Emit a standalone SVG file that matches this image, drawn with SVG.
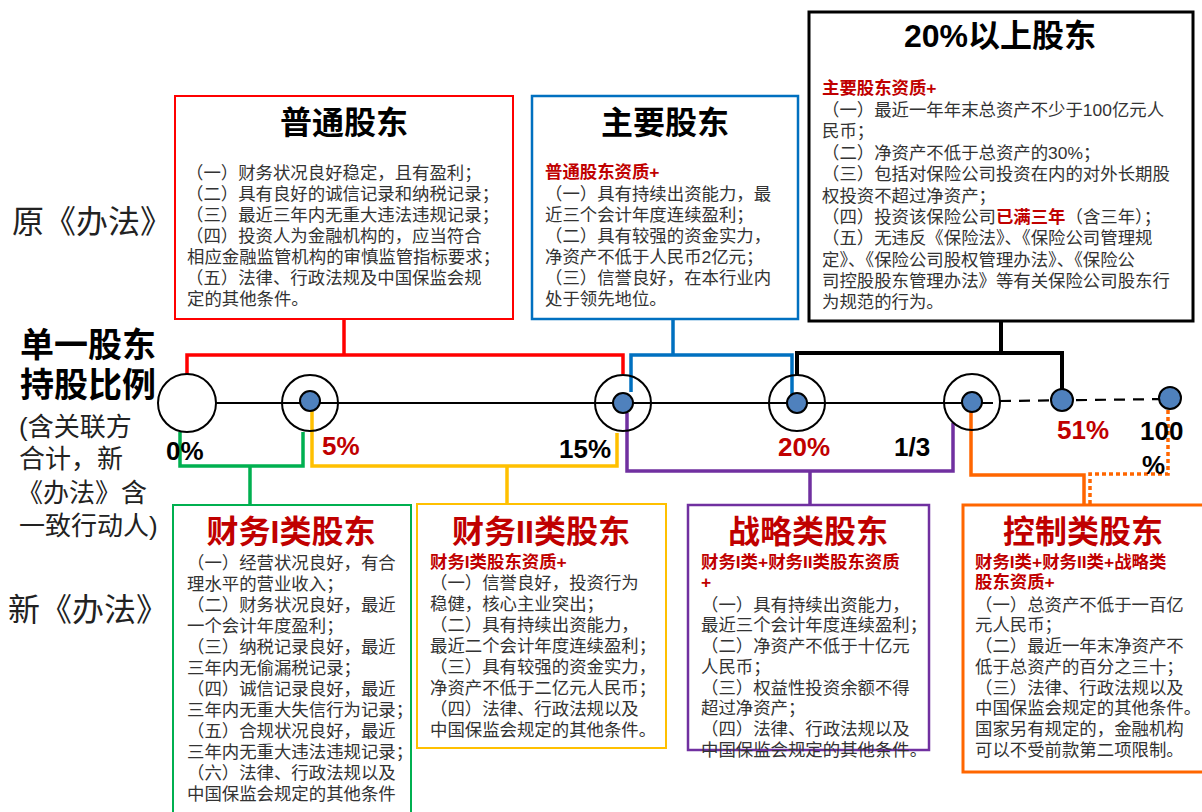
<svg xmlns="http://www.w3.org/2000/svg" width="1202" height="812" viewBox="0 0 1202 812">
<style>
text{font-family:"Liberation Sans","Noto Sans CJK SC",sans-serif}
.t{font-size:32px;font-weight:bold;text-anchor:middle}
.b{font-size:17.4px;fill:#333}
.r{font-size:17.4px;fill:#C00000;font-weight:bold}
.lbl{font-size:26px;font-weight:bold}
.side{font-size:32px;fill:#222}
.conn{fill:none;stroke-width:3.5}
.ring{fill:none;stroke:#000;stroke-width:2}
.dot{fill:#4F81BD;stroke:#000;stroke-width:2}
</style>
<rect width="1202" height="812" fill="#fff"/>

<!-- left labels -->
<g id="side-labels">
<text class="side" x="12" y="233">原《办法》</text>
<text x="20" y="357" style="font-size:34px;font-weight:bold">单一股东</text>
<text x="20" y="397" style="font-size:34px;font-weight:bold">持股比例</text>
<text x="19" y="436" style="font-size:26px;fill:#222">(含关联方</text>
<text x="19" y="468" style="font-size:26px;fill:#222">合计，新</text>
<text x="17" y="502" style="font-size:26px;fill:#222">《办法》含</text>
<text x="19" y="535" style="font-size:26px;fill:#222">一致行动人)</text>
<text class="side" x="8" y="621">新《办法》</text>
</g>

<!-- connectors -->
<g id="connectors">
<line x1="215" y1="403" x2="993" y2="403" stroke="#000" stroke-width="2.2"/>
<line x1="1000" y1="401" x2="1170" y2="399" stroke="#000" stroke-width="2.2" stroke-dasharray="11,8"/>
<path class="conn" stroke="#FF0000" d="M344 319 V355 M187 375 V355 H623 V374"/>
<path class="conn" stroke="#0070C0" d="M673 319 V355 M631 392 V355 H792 V400"/>
<path fill="none" stroke="#000" stroke-width="4" d="M1001 321 V353 M797 375 V353 H1062 V392"/>
<path class="conn" stroke="#00B050" d="M180 432 V466 H303 V432 M250 466 V505"/>
<path class="conn" stroke="#FFC000" d="M312 410 V466 H617 V433 M507 466 V504"/>
<path class="conn" stroke="#7030A0" d="M627 413 V471 H953 V423 M810 471 V505"/>
<path class="conn" stroke="#FF6600" d="M971 412 V475 H1084 V505"/>
<path class="conn" stroke="#FF6600" stroke-dasharray="4,3" d="M1168 410 V474 H1090 V505"/>
</g>

<!-- timeline nodes -->
<g id="node-0">
<circle cx="187" cy="403" r="29" fill="#fff" stroke="#000" stroke-width="2"/>
<text class="lbl" x="166" y="460">0%</text>
</g>
<g id="node-5">
<circle class="ring" cx="310" cy="403" r="28"/>
<circle class="dot" cx="310" cy="401" r="10"/>
<text class="lbl" x="322" y="455" fill="#C00000">5%</text>
</g>
<g id="node-15">
<circle class="ring" cx="623" cy="403" r="28"/>
<circle class="dot" cx="623" cy="403" r="10"/>
<text class="lbl" x="559" y="458">15%</text>
</g>
<g id="node-20">
<circle class="ring" cx="797" cy="403" r="28"/>
<circle class="dot" cx="797" cy="403" r="10"/>
<text class="lbl" x="778" y="456" fill="#C00000">20%</text>
</g>
<g id="node-13">
<circle class="ring" cx="972" cy="402" r="28"/>
<circle class="dot" cx="972" cy="402" r="10"/>
<text class="lbl" x="894" y="456">1/3</text>
</g>
<g id="node-51">
<circle class="dot" cx="1062" cy="400" r="11"/>
<text class="lbl" x="1057" y="439" fill="#C00000">51%</text>
</g>
<g id="node-100">
<circle class="dot" cx="1170" cy="398" r="11"/>
<text class="lbl" x="1140" y="440">100</text>
<text class="lbl" x="1142" y="474">%</text>
</g>

<!-- top boxes -->
<g id="box-putong">
<rect x="175" y="96" width="338" height="223" fill="#fff" stroke="#FF0000" stroke-width="2"/>
<text class="t" x="344" y="134">普通股东</text>
<text class="b">
<tspan x="186" y="179">（一）财务状况良好稳定，且有盈利；</tspan>
<tspan x="186" y="200">（二）具有良好的诚信记录和纳税记录；</tspan>
<tspan x="186" y="221">（三）最近三年内无重大违法违规记录；</tspan>
<tspan x="186" y="242">（四）投资人为金融机构的，应当符合</tspan>
<tspan x="187" y="263">相应金融监管机构的审慎监管指标要求；</tspan>
<tspan x="186" y="284">（五）法律、行政法规及中国保监会规</tspan>
<tspan x="187" y="305">定的其他条件。</tspan>
</text>
</g>

<g id="box-zhuyao">
<rect x="532" y="96" width="266" height="223" fill="#fff" stroke="#0070C0" stroke-width="2.5"/>
<text class="t" x="665" y="134">主要股东</text>
<text class="r" x="545" y="178">普通股东资质+</text>
<text class="b">
<tspan x="545" y="200">（一）具有持续出资能力，最</tspan>
<tspan x="545" y="221">近三个会计年度连续盈利；</tspan>
<tspan x="545" y="242">（二）具有较强的资金实力，</tspan>
<tspan x="545" y="263">净资产不低于人民币2亿元；</tspan>
<tspan x="545" y="284">（三）信誉良好，在本行业内</tspan>
<tspan x="545" y="305">处于领先地位。</tspan>
</text>
</g>

<g id="box-20">
<rect x="809" y="12" width="384" height="309" fill="#fff" stroke="#000" stroke-width="3"/>
<text class="t" x="1000" y="47">20%以上股东</text>
<text class="r" x="822" y="94">主要股东资质+</text>
<text class="b">
<tspan x="822" y="116">（一）最近一年年末总资产不少于100亿元人</tspan>
<tspan x="822" y="137">民币；</tspan>
<tspan x="822" y="159">（二）净资产不低于总资产的30%；</tspan>
<tspan x="822" y="180">（三）包括对保险公司投资在内的对外长期股</tspan>
<tspan x="822" y="202">权投资不超过净资产；</tspan>
<tspan x="822" y="223">（四）投资该保险公司<tspan fill="#C00000" font-weight="bold">已满三年</tspan>（含三年）；</tspan>
<tspan x="822" y="244">（五）无违反《保险法》、《保险公司管理规</tspan>
<tspan x="822" y="266">定》、《保险公司股权管理办法》、《保险公</tspan>
<tspan x="822" y="287">司控股股东管理办法》等有关保险公司股东行</tspan>
<tspan x="822" y="308">为规范的行为。</tspan>
</text>
</g>

<!-- bottom boxes -->
<g id="box-cw1">
<rect x="173" y="505" width="238" height="320" fill="#fff" stroke="#00B050" stroke-width="2"/>
<text class="t" x="291" y="543" fill="#C00000">财务I类股东</text>
<text class="b">
<tspan x="187" y="569">（一）经营状况良好，有合</tspan>
<tspan x="187" y="590">理水平的营业收入；</tspan>
<tspan x="187" y="611">（二）财务状况良好，最近</tspan>
<tspan x="187" y="632">一个会计年度盈利；</tspan>
<tspan x="187" y="653">（三）纳税记录良好，最近</tspan>
<tspan x="187" y="674">三年内无偷漏税记录；</tspan>
<tspan x="187" y="695">（四）诚信记录良好，最近</tspan>
<tspan x="187" y="716">三年内无重大失信行为记录；</tspan>
<tspan x="187" y="737">（五）合规状况良好，最近</tspan>
<tspan x="187" y="758">三年内无重大违法违规记录；</tspan>
<tspan x="187" y="779">（六）法律、行政法规以及</tspan>
<tspan x="187" y="800">中国保监会规定的其他条件</tspan>
</text>
</g>

<g id="box-cw2">
<rect x="417" y="504" width="249" height="244" fill="#fff" stroke="#FFC000" stroke-width="2"/>
<text class="t" x="541" y="543" fill="#C00000">财务II类股东</text>
<text class="r" x="430" y="568">财务I类股东资质+</text>
<text class="b">
<tspan x="430" y="589">（一）信誉良好，投资行为</tspan>
<tspan x="430" y="610">稳健，核心主业突出；</tspan>
<tspan x="430" y="631">（二）具有持续出资能力，</tspan>
<tspan x="430" y="652">最近二个会计年度连续盈利；</tspan>
<tspan x="430" y="673">（三）具有较强的资金实力，</tspan>
<tspan x="430" y="694">净资产不低于二亿元人民币；</tspan>
<tspan x="430" y="715">（四）法律、行政法规以及</tspan>
<tspan x="430" y="736">中国保监会规定的其他条件。</tspan>
</text>
</g>

<g id="box-zl">
<rect x="688" y="505" width="241" height="245" fill="#fff" stroke="#7030A0" stroke-width="2.5"/>
<text class="t" x="808" y="543" fill="#C00000">战略类股东</text>
<text class="r">
<tspan x="701" y="568">财务I类+财务II类股东资质</tspan>
<tspan x="701" y="588">+</tspan>
</text>
<text class="b">
<tspan x="701" y="611">（一）具有持续出资能力，</tspan>
<tspan x="701" y="631">最近三个会计年度连续盈利；</tspan>
<tspan x="701" y="652">（二）净资产不低于十亿元</tspan>
<tspan x="701" y="673">人民币；</tspan>
<tspan x="701" y="694">（三）权益性投资余额不得</tspan>
<tspan x="701" y="714">超过净资产；</tspan>
<tspan x="701" y="735">（四）法律、行政法规以及</tspan>
<tspan x="701" y="756">中国保监会规定的其他条件。</tspan>
</text>
</g>

<g id="box-kz">
<rect x="963" y="505" width="250" height="267" fill="#fff" stroke="#FF6600" stroke-width="3"/>
<text class="t" x="1083" y="543" fill="#C00000">控制类股东</text>
<text class="r">
<tspan x="975" y="568">财务I类+财务II类+战略类</tspan>
<tspan x="975" y="588">股东资质+</tspan>
</text>
<text class="b">
<tspan x="975" y="611">（一）总资产不低于一百亿</tspan>
<tspan x="975" y="631">元人民币；</tspan>
<tspan x="975" y="652">（二）最近一年末净资产不</tspan>
<tspan x="975" y="673">低于总资产的百分之三十；</tspan>
<tspan x="975" y="694">（三）法律、行政法规以及</tspan>
<tspan x="975" y="714">中国保监会规定的其他条件。</tspan>
<tspan x="975" y="735">国家另有规定的，金融机构</tspan>
<tspan x="975" y="756">可以不受前款第二项限制。</tspan>
</text>
</g>
</svg>
